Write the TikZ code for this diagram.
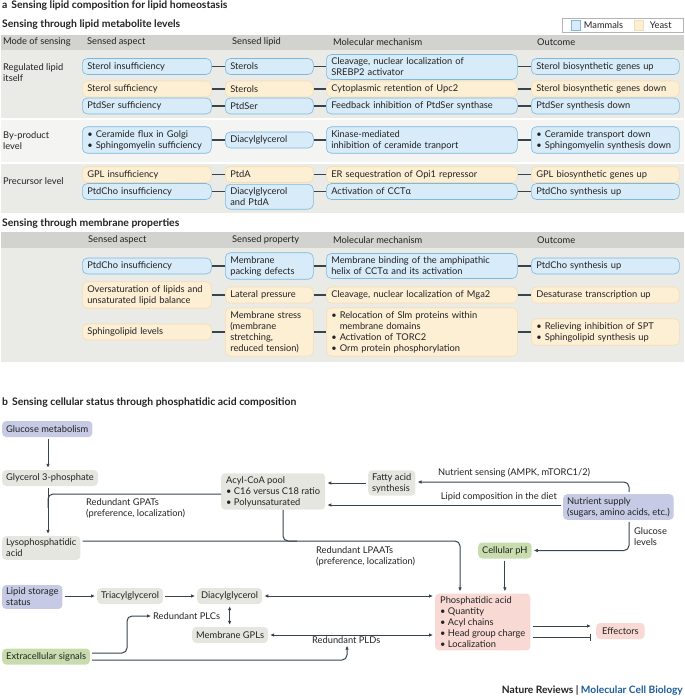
\documentclass[tikz,border=0pt]{standalone}
\usepackage{fontspec}
\setmainfont{Lato}
\usetikzlibrary{arrows.meta,positioning}

\definecolor{txt}{HTML}{222222}
\definecolor{lnk}{HTML}{37444E}
\definecolor{mamfill}{HTML}{D7EBF8}
\definecolor{mamline}{HTML}{7DB9DF}
\definecolor{ystfill}{HTML}{FDEFD4}
\definecolor{ystline}{HTML}{F5DEB3}
\definecolor{hdrgray}{HTML}{D2D2CE}
\definecolor{grpgray}{HTML}{EAEAE7}
\definecolor{grplite}{HTML}{F4F4F2}
\definecolor{boxgray}{HTML}{E6E6E1}
\definecolor{lavfill}{HTML}{C6CAE4}
\definecolor{grnfill}{HTML}{C8DCAE}
\definecolor{pnkfill}{HTML}{F9D9D3}
\definecolor{legline}{HTML}{B4B4B4}
\definecolor{nrblue}{HTML}{1C5C9C}

\newcommand{\lbul}{\textbullet\ }

\begin{document}
\begin{tikzpicture}[
  x=1pt, y=-1pt,
  >={Latex[length=4pt,width=3.6pt]},
  every node/.style={font=\fontsize{9.3}{11}\selectfont, text=txt},
  pill/.style={rounded corners=5pt, line width=0.6pt, anchor=west, align=left,
    inner xsep=5pt, inner ysep=3.5pt, minimum height=16pt},
  mam/.style={pill, fill=mamfill, draw=mamline},
  yst/.style={pill, fill=ystfill, draw=ystline},
  colasp/.style={text width=119pt},
  collip/.style={text width=78pt},
  colmec/.style={text width=181pt},
  colout/.style={text width=138pt},
  hd/.style={anchor=west, inner sep=0pt},
  ttl/.style={anchor=west, inner sep=0pt, font=\fontsize{10.4}{12}\selectfont\bfseries},
  tie/.style={draw=lnk, line width=1.1pt},
  bx/.style={rounded corners=4pt, anchor=west, align=left, inner xsep=4pt,
    inner ysep=3pt, minimum height=16pt},
  gry/.style={bx, fill=boxgray},
  lav/.style={bx, fill=lavfill},
  grn/.style={bx, fill=grnfill},
  pnk/.style={bx, fill=pnkfill},
  lab/.style={anchor=west, align=left, inner sep=0pt},
  flow/.style={draw=lnk, line width=1pt, ->, shorten >=2pt, shorten <=2pt, rounded corners=5pt},
  twoway/.style={flow, <->},
  link/.style={draw=lnk, line width=1pt, rounded corners=5pt}
]
\useasboundingbox (0,0) rectangle (685,696);

% Panel a: bands
\fill[hdrgray] (1,35) rectangle (684,50);
\fill[grpgray] (1,50) rectangle (684,118);
\fill[grplite] (1,120) rectangle (684,162);
\fill[grpgray] (1,164) rectangle (684,213);
\fill[hdrgray] (1,232) rectangle (684,248);
\fill[grpgray] (1,248) rectangle (684,362);

% Titles
\node[ttl] (tta) at (2,5.5) {a\hspace{4pt}Sensing lipid composition for lipid homeostasis};
\node[ttl] (tt1) at (2,25) {Sensing through lipid metabolite levels};
\node[ttl] (tt2) at (2,224) {Sensing through membrane properties};
\node[ttl] (ttb) at (2,403) {b\hspace{4pt}Sensing cellular status through phosphatidic acid composition};

% Legend
\draw[draw=legline, fill=white, line width=0.5pt] (562,18) rectangle (683,32);
\node[fill=mamfill, draw=mamline, line width=0.4pt, minimum width=9pt, minimum height=10pt, inner sep=0pt] (swm) at (576,25) {};
\node[hd, right=3pt of swm] (lgm) {Mammals};
\node[fill=ystfill, draw=ystline, line width=0.4pt, minimum width=9pt, minimum height=10pt, inner sep=0pt] (swy) at (639,25) {};
\node[hd, right=6pt of swy] (lgy) {Yeast};

% Headers
\node[hd] (h1) at (3,42) {Mode of sensing};
\node[hd] (h2) at (87,42) {Sensed aspect};
\node[hd] (h3) at (232,42) {Sensed lipid};
\node[hd] (h4) at (333,42) {Molecular mechanism};
\node[hd] (h5) at (537,42) {Outcome};
\node[hd] (k2) at (88,240) {Sensed aspect};
\node[hd] (k3) at (232,240) {Sensed property};
\node[hd] (k4) at (333,240) {Molecular mechanism};
\node[hd] (k5) at (537,240) {Outcome};

% Mode of sensing
\node[lab] (md1) at (3,72.5) {Regulated lipid\\itself};
\node[lab] (md2) at (3,140.5) {By-product\\level};
\node[lab] (md3) at (3,181) {Precursor level};

% Lipid metabolite rows
\node[mam, colasp] (sa1) at (82,66.5) {Sterol insufficiency};
\node[mam, collip] (sl1) at (225,66.5) {Sterols};
\node[mam, colmec] (mm1) at (326,67) {Cleavage, nuclear localization of\\SREBP2 activator};
\node[mam, colout] (oc1) at (531,66.5) {Sterol biosynthetic genes up};

\node[yst, colasp] (sa2) at (82,89) {Sterol sufficiency};
\node[yst, collip] (sl2) at (225,89) {Sterols};
\node[yst, colmec] (mm2) at (326,89) {Cytoplasmic retention of Upc2};
\node[yst, colout] (oc2) at (531,89) {Sterol biosynthetic genes down};

\node[mam, colasp] (sa3) at (82,106) {PtdSer sufficiency};
\node[mam, collip] (sl3) at (225,106) {PtdSer};
\node[mam, colmec] (mm3) at (326,106) {Feedback inhibition of PtdSer synthase};
\node[mam, colout] (oc3) at (531,106) {PtdSer synthesis down};

\node[mam, colasp] (sa4) at (82,140) {\lbul Ceramide flux in Golgi\\\lbul Sphingomyelin sufficiency};
\node[mam, collip] (sl4) at (225,140) {Diacylglycerol};
\node[mam, colmec] (mm4) at (326,140) {Kinase-mediated\\inhibition of ceramide tranport};
\node[mam, colout] (oc4) at (531,140) {\lbul Ceramide transport down\\\lbul Sphingomyelin synthesis down};

\node[yst, colasp] (sa5) at (82,174.5) {GPL insufficiency};
\node[yst, collip] (sl5) at (225,174.5) {PtdA};
\node[yst, colmec] (mm5) at (326,174.5) {ER sequestration of Opi1 repressor};
\node[yst, colout] (oc5) at (531,174.5) {GPL biosynthetic genes up};

\node[mam, colasp] (sa6) at (82,191.5) {PtdCho insufficiency};
\node[mam, collip, anchor=north west] (sl6) at (225,184) {Diacylglycerol\\and PtdA};
\node[mam, colmec] (mm6) at (326,191.5) {Activation of CCTα};
\node[mam, colout] (oc6) at (531,191.5) {PtdCho synthesis up};

% Membrane property rows
\node[mam, colasp] (ma1) at (82,266) {PtdCho insufficiency};
\node[mam, collip] (mp1) at (225,266) {Membrane\\packing defects};
\node[mam, colmec] (mx1) at (326,266) {Membrane binding of the amphipathic\\helix of CCTα and its activation};
\node[mam, colout] (mo1) at (531,266) {PtdCho synthesis up};

\node[yst, colasp] (ma2) at (82,295) {Oversaturation of lipids and\\unsaturated lipid balance};
\node[yst, collip] (mp2) at (225,295) {Lateral pressure};
\node[yst, colmec] (mx2) at (326,295) {Cleavage, nuclear localization of Mga2};
\node[yst, colout] (mo2) at (531,295) {Desaturase transcription up};

\node[yst, colasp] (ma3) at (82,332) {Sphingolipid levels};
\node[yst, collip] (mp3) at (225,332) {Membrane stress\\(membrane\\stretching,\\reduced tension)};
\node[yst, colmec] (mx3) at (326,332) {\lbul Relocation of Slm proteins within\\\hphantom{\lbul}membrane domains\\\lbul Activation of TORC2\\\lbul Orm protein phosphorylation};
\node[yst, colout] (mo3) at (531,332) {\lbul Relieving inhibition of SPT\\\lbul Sphingolipid synthesis up};

% Row ties
\foreach \r in {1,...,6}
  \draw[tie] (sa\r.east) -- (sa\r.east -| sl\r.west)
             (sa\r.east -| sl\r.east) -- (sa\r.east -| mm\r.west)
             (sa\r.east -| mm\r.east) -- (sa\r.east -| oc\r.west);
\foreach \r in {1,2,3}
  \draw[tie] (ma\r.east) -- (ma\r.east -| mp\r.west)
             (ma\r.east -| mp\r.east) -- (ma\r.east -| mx\r.west)
             (ma\r.east -| mx\r.east) -- (ma\r.east -| mo\r.west);

% Panel b: nodes
\node[lav] (glc) at (2,429) {Glucose metabolism};
\node[gry] (g3p) at (2,478) {Glycerol 3-phosphate};
\node[gry] (lpa) at (2,548) {Lysophosphatidic\\acid};
\node[gry, inner xsep=5pt] (acyl) at (221,491.5) {Acyl-CoA pool\\\lbul C16 versus C18 ratio\\\lbul Polyunsaturated};
\node[gry] (fas) at (368,483) {Fatty acid\\synthesis};
\node[lav] (nut) at (563,507) {Nutrient supply\\(sugars, amino acids, etc.)};
\node[grn] (ph) at (478,550.5) {Cellular pH};
\node[lav] (lss) at (2,597) {Lipid storage\\status};
\node[gry] (tag) at (97,596) {Triacylglycerol};
\node[gry] (dag) at (197,596) {Diacylglycerol};
\node[lab] (plc) at (153,616) {Redundant PLCs};
\node[gry] (gpl) at (192,635) {Membrane GPLs};
\node[grn] (ecs) at (2,656.5) {Extracellular signals};
\node[lab] (pld) at (312,640) {Redundant PLDs};
\node[pnk, inner xsep=5pt] (pa) at (435,622) {Phosphatidic acid\\\lbul Quantity\\\lbul Acyl chains\\\lbul Head group charge\\\lbul Localization};
\node[pnk, inner xsep=6pt] (eff) at (596,631) {Effectors};

% Labels
\node[lab] (lgpat) at (86,508) {Redundant GPATs\\(preference, localization)};
\node[lab] (llpaat) at (316,556) {Redundant LPAATs\\(preference, localization)};
\node[lab] (lnsens) at (438,473) {Nutrient sensing (AMPK, mTORC1/2)};
\node[lab, anchor=east] (ldiet) at (557,497) {Lipid composition in the diet};
\node[lab] (lgluc) at (634,536.5) {Glucose\\levels};

% Route points
\coordinate (vx) at (48,0);
\coordinate (gp) at (0,494);
\coordinate (gpe) at (48,508);
\coordinate (lp) at (460,541);
\coordinate (ax) at (283,541);
\coordinate (nx) at (629,482);
\coordinate (ny) at (0,505);
\coordinate (e1) at (127,653);
\coordinate (e2) at (347,660);
\coordinate (ea) at (0,626);
\coordinate (eb) at (0,637);

% Arrows
\draw[flow] (glc.south -| vx) -- (g3p.north -| vx);
\draw[flow] (g3p.south -| vx) -- (lpa.north -| vx);
\draw[link] (acyl.west |- gp) -- (vx |- gp) -- (gpe);
\draw[flow] (lpa.east |- lp) -- (lp) -- (lp |- pa.north);
\draw[link] (acyl.south -| ax) -- (ax) -- ++(14,0);
\draw[flow] (fas.west) -- (acyl.east |- fas.west);
\draw[flow] (nut.north -| nx) -- (nx) -- (fas.east |- nx);
\draw[flow] (nut.west |- ny) -- (acyl.east |- ny);
\draw[flow] (nut.south -| nx) -- (nx |- ph.east) -- (ph.east);
\draw[flow] (ph.south) -- (ph.south |- pa.north);
\draw[flow] (lss.east |- tag.west) -- (tag.west);
\draw[flow] (tag) -- (dag);
\draw[twoway] (dag.south) -- (dag.south |- gpl.north);
\draw[twoway] (dag.east) -- (dag.east -| pa.west);
\draw[twoway] (gpl.east) -- (gpl.east -| pa.west);
\draw[flow] (ecs.east |- e1) -- (e1) -- (e1 |- plc.west) -- (plc.west);
\draw[flow] (ecs.east |- e2) -- (e2) -- (e2 |- pld.south);
\draw[flow, shorten >=5pt] (pa.east |- ea) -- (eff.west |- ea);
\draw[link, -{Bar[width=7pt]}, shorten <=2pt, shorten >=5pt] (pa.east |- eb) -- (eff.west |- eb);

% Footer
\node[anchor=east, inner sep=0pt, font=\fontsize{10.2}{12}\selectfont\bfseries] (nrmcb) at (683,690)
  {Nature Reviews | \textcolor{nrblue}{Molecular Cell Biology}};

\end{tikzpicture}
\end{document}
